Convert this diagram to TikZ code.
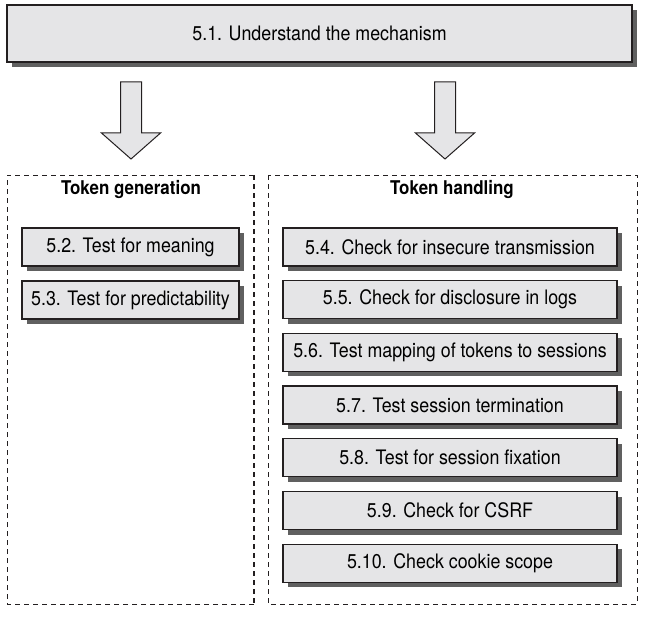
\documentclass[tikz,border=0pt]{standalone}
\usepackage{fontspec}
\setmainfont{TeX Gyre Heros}[FakeStretch=0.895]
\usetikzlibrary{shadows}
\definecolor{boxfill}{HTML}{E5E5E7}
\definecolor{shadowgray}{HTML}{606060}
\definecolor{edge}{HTML}{231F20}
\tikzset{
  stepbox/.style={draw=edge, line width=1.3bp, fill=boxfill, inner sep=0pt,
    minimum height=38bp, font=\fontsize{20}{24}\selectfont,
    drop shadow={shadow xshift=5bp, shadow yshift=-5bp, fill=shadowgray, opacity=1}},
  leftbox/.style={stepbox, minimum width=217bp},
  rightbox/.style={stepbox, minimum width=334bp},
  frame/.style={draw=edge, line width=0.8bp, dash pattern=on 5bp off 4bp},
  blockarrow/.style={draw=edge, line width=1bp, fill=boxfill, line join=miter},
  title/.style={font=\fontsize{19}{22}\selectfont\bfseries, inner sep=0pt}
}
\begin{document}
\begin{tikzpicture}[x=1bp,y=-1bp]
\useasboundingbox (0,0) rectangle (648,623);
% top box
\node[stepbox, minimum width=625bp, minimum height=57bp] (top) at (319.5,33.5) {5.1. Understand the mechanism};
% frames
\draw[frame] (254,604) -- (7,604) -- (7,175) -- (254,175);
\draw[frame, line width=2bp] (254,175) -- (254,604);
\node[inner sep=0pt, minimum width=247bp, minimum height=429bp] (gen) at (130.5,389.5) {};
\draw[frame] (268,175) rectangle (637,604);
\node[inner sep=0pt, minimum width=369bp, minimum height=429bp] (hand) at (452.5,389.5) {};
% titles
\node[title] (tg) at (131,190) {Token generation};
\node[title] (th) at (452,190) {Token handling};
% block arrows
\foreach \c/\n in {131/la,445/ra}{
  \draw[blockarrow] (\c-10.5,82) -- (\c+10.5,82) -- (\c+10.5,133) -- (\c+29.5,133)
    -- (\c,159) -- (\c-29.5,133) -- (\c-10.5,133) -- cycle;
}
% left boxes
\node[leftbox] (b52) at (130.5,247) {5.2. Test for meaning};
\node[leftbox] (b53) at (130.5,300) {5.3. Test for predictability};
% right boxes
\node[rightbox] (b54) at (450,247) {5.4. Check for insecure transmission};
\node[rightbox] (b55) at (450,299.7) {5.5. Check for disclosure in logs};
\node[rightbox] (b56) at (450,352.4) {5.6. Test mapping of tokens to sessions};
\node[rightbox] (b57) at (450,405.1) {5.7. Test session termination};
\node[rightbox] (b58) at (450,457.8) {5.8. Test for session fixation};
\node[rightbox] (b59) at (450,510.5) {5.9. Check for CSRF};
\node[rightbox] (b510) at (450,563.2) {5.10. Check cookie scope};
\end{tikzpicture}
\end{document}
